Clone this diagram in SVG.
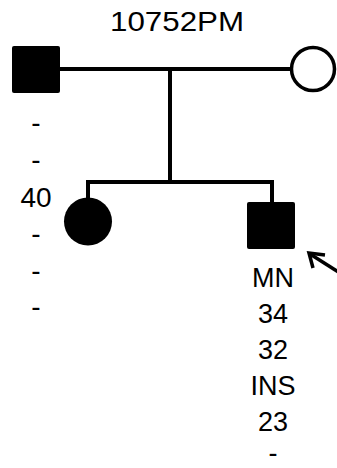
<svg xmlns="http://www.w3.org/2000/svg" width="337" height="468" viewBox="0 0 337 468">
<style>
text{font-family:"Liberation Sans",Arial,sans-serif;font-size:28px;fill:#000;text-anchor:middle}
#proband-labels text{font-size:27px}
.ln{stroke:#000;stroke-width:4;fill:none}
</style>
<rect width="337" height="468" fill="#fff"/>
<text id="title" x="177" y="31" textLength="134" lengthAdjust="spacingAndGlyphs">10752PM</text>
<g id="connectors">
<line class="ln" x1="60" y1="69" x2="291" y2="69"/>
<line class="ln" x1="170" y1="69" x2="170" y2="183"/>
<polyline class="ln" points="88,199 88,182 272,182 272,203"/>
<g stroke="#000" stroke-width="3.5" fill="none">
<line x1="340" y1="273" x2="310" y2="254"/>
<polyline points="325,255 309,253 313,268"/>
</g>
</g>
<g id="father">
<rect x="12" y="46" width="48" height="47" rx="2" fill="#000"/>
</g>
<g id="mother">
<circle cx="313" cy="69" r="21.5" fill="#fff" stroke="#000" stroke-width="3.5"/>
</g>
<g id="daughter">
<circle cx="88" cy="221.5" r="24" fill="#000"/>
</g>
<g id="proband">
<rect x="247" y="202" width="48" height="47" rx="2" fill="#000"/>
</g>
<g id="father-labels">
<text x="36" y="132">-</text>
<text x="36" y="169">-</text>
<text x="36" y="207">40</text>
<text x="36" y="243">-</text>
<text x="36" y="280">-</text>
<text x="36" y="316">-</text>
</g>
<g id="proband-labels">
<text x="273" y="287">MN</text>
<text x="273" y="323">34</text>
<text x="273" y="359">32</text>
<text x="273" y="395">INS</text>
<text x="273" y="431">23</text>
<text x="273" y="462">-</text>
</g>
</svg>
